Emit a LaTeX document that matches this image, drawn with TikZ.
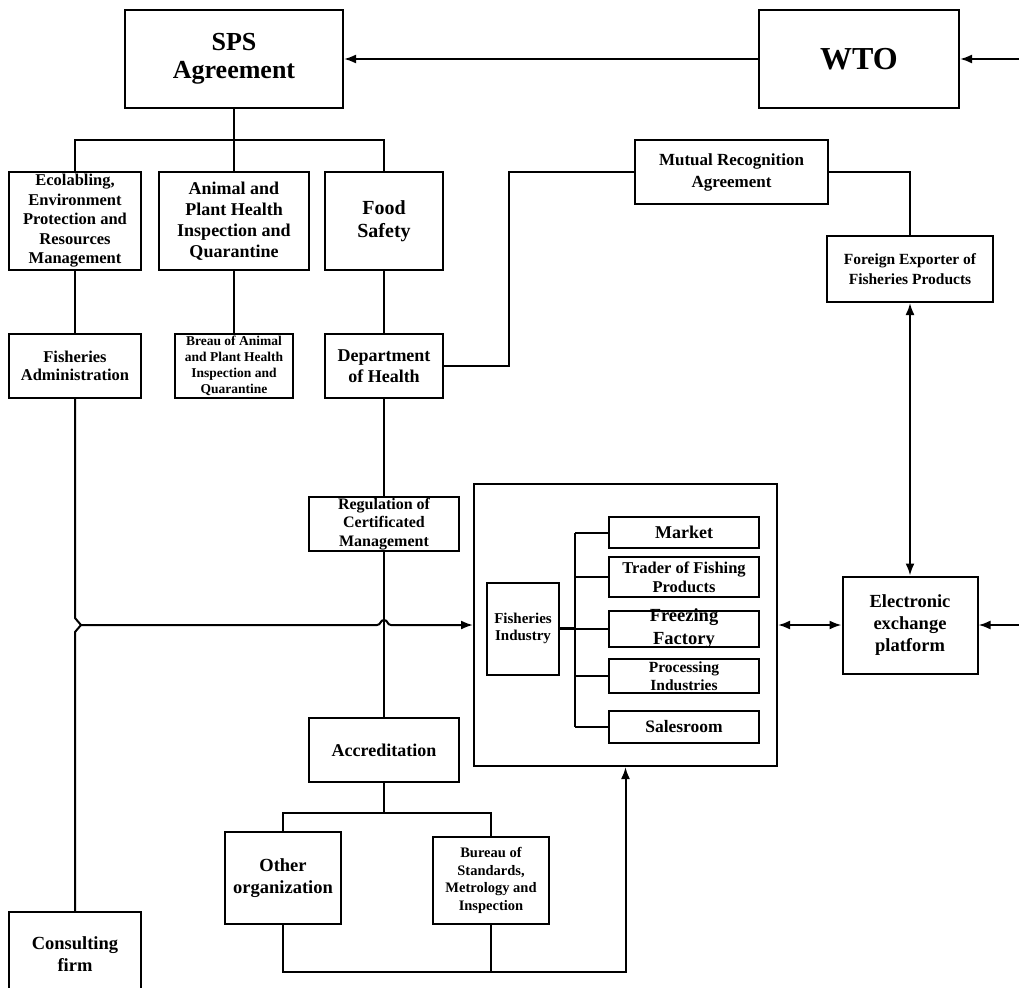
\documentclass[tikz,border=0pt]{standalone}
\usepackage{fontspec}
\setmainfont{Liberation Serif}
\usetikzlibrary{arrows.meta}

\begin{document}
\begin{tikzpicture}
[x=1pt,y=-1pt,
  every node/.style={inner sep=0pt,align=center,line width=2pt},%
  boxNode/.style 2 args={draw,minimum width=#1,minimum height=#2},
  textSize/.style 2 args={font=\fontsize{#1}{#2}\selectfont\bfseries},
  lineDecorate/.style={-,line width=2pt},
  arrowDecorate/.style={-{Latex[length=12pt,width=9pt]},line width=2pt},
  bothDecorate/.style={{Latex[length=12pt,width=9pt]}-{Latex[length=12pt,width=9pt]},line width=2pt}]
\clip (0,0) rectangle (1019,987);
% agreements
\node[boxNode={218pt}{98pt},textSize={26}{28}] (sps) at (234,59) {SPS\\Agreement};
\node[boxNode={200pt}{98pt},textSize={32}{36}] (wto) at (859,59) {WTO};
\node[boxNode={193pt}{64pt},textSize={17}{22}] (mra) at (731.5,172) {Mutual Recognition\\Agreement};
\node[boxNode={166pt}{66pt},textSize={15.5}{20}] (foreign) at (910,269) {Foreign Exporter of\\Fisheries Products};
% SPS fields
\node[boxNode={132pt}{98pt},textSize={16.5}{19.5}] (eco) at (75,221)
  {Ecolabling,\\Environment\\Protection and\\Resources\\Management};
\node[boxNode={150pt}{98pt},textSize={18}{21}] (animal) at (234,221)
  {Animal and\\Plant Health\\Inspection and\\Quarantine};
\node[boxNode={118pt}{98pt},textSize={20}{23}] (food) at (384,221) {Food\\Safety};
% authorities
\node[boxNode={132pt}{64pt},textSize={16.5}{18}] (fishAdmin) at (75,366) {Fisheries\\Administration};
\node[boxNode={118pt}{64pt},textSize={13.5}{16}] (breau) at (234,366)
  {Breau of Animal\\and Plant Health\\Inspection and\\Quarantine};
\node[boxNode={118pt}{64pt},textSize={18}{21}] (dept) at (384,366) {Department\\of Health};
\node[boxNode={150pt}{54pt},textSize={16}{18.5}] (regulation) at (384,524)
  {Regulation of\\Certificated\\Management};
\node[boxNode={150pt}{64pt},textSize={18}{21}] (accreditation) at (384,750) {Accreditation};
\node[boxNode={116pt}{92pt},textSize={18.5}{22.5}] (other) at (283,878) {Other\\organization};
\node[boxNode={116pt}{87pt},textSize={14.5}{17.5}] (bureau) at (491,880.5)
  {Bureau of\\Standards,\\Metrology and\\Inspection};
\node[boxNode={132pt}{84pt},textSize={18.5}{21.5}] (consulting) at (75,954) {Consulting\\firm};
% fisheries industry
\node[boxNode={303pt}{282pt}] (industryBox) at (625.5,625) {};
\node[boxNode={72pt}{92pt},textSize={15}{16.5}] (fishIndustry) at (523,628.5) {Fisheries\\Industry};
\node[boxNode={150pt}{31pt},textSize={18}{21}] (market) at (684,532.5) {Market};
\node[boxNode={150pt}{40pt},textSize={16.5}{19}] (trader) at (684,577) {Trader of Fishing\\Products};
\node[boxNode={150pt}{36pt},label={[textSize={18.5}{23}]center:{Freezing\\Factory}}] (freezing) at (684,628.5) {};
\node[boxNode={150pt}{34pt},textSize={15.5}{18}] (processing) at (684,676) {Processing\\Industries};
\node[boxNode={150pt}{32pt},textSize={17.5}{20}] (salesroom) at (684,727) {Salesroom};
\node[boxNode={135pt}{97pt},textSize={18.5}{22}] (eep) at (910,625) {Electronic\\exchange\\platform};

\coordinate (wtoIn) at (1019,59);
\coordinate (eepIn) at (1019,625);
\coordinate (spsFork) at (234,140);
\coordinate (accFork) at (384,813);
\coordinate (deptTurn) at (509,366);
\coordinate (baseLine) at (0,972);
\coordinate (trunk) at (575,0);
\coordinate (kinkTip) at (81,625);
\coordinate (kinkBase) at (fishAdmin.south |- kinkTip);
\coordinate (hopMid) at (regulation.south |- kinkTip);

\draw[arrowDecorate] (wtoIn) -- (wto);
\draw[arrowDecorate] (wto) -- (sps);
\draw[lineDecorate] (sps) -- (spsFork);
\foreach \n in {eco,animal,food} \draw[lineDecorate] (spsFork) -| (\n.north);
\path
\foreach \startNode/\endNode in {
  eco/fishAdmin, animal/breau, food/dept, dept/regulation,
  regulation/accreditation, accreditation/accFork}
{
  (\startNode) edge[lineDecorate] (\endNode)
};
\foreach \n in {other,bureau} \draw[lineDecorate] (accFork) -| (\n.north);
\draw[lineDecorate] (dept) -- (deptTurn) |- (mra);
\draw[lineDecorate] (mra) -| (foreign);
\draw[bothDecorate] (foreign) -- (eep);
\draw[bothDecorate] (industryBox) -- (eep);
\draw[arrowDecorate] (eepIn) -- (eep);
% line with kink and hop
\draw[lineDecorate] (fishAdmin) -- ([yshift=7pt]kinkBase)
  -- (kinkTip) -- ([yshift=-7pt]kinkBase)
  -- (consulting);
\draw[arrowDecorate] (kinkTip) -- ([xshift=-7pt]hopMid)
  .. controls ([xshift=-3pt]hopMid) and ([xshift=-4pt,yshift=5pt]hopMid) .. ([yshift=5pt]hopMid)
  .. controls ([xshift=4pt,yshift=5pt]hopMid) and ([xshift=3pt]hopMid) .. ([xshift=7pt]hopMid)
  -- (industryBox.west);
\draw[arrowDecorate] (other) |- (industryBox.south |- baseLine) -- (industryBox);
\draw[lineDecorate] (bureau) -- (bureau |- baseLine);
% branches inside the industry box
\draw[lineDecorate] (trunk |- market) -- (trunk |- salesroom);
\foreach \n in {market,trader,processing,salesroom} \draw[lineDecorate] (trunk |- \n) -- (\n);
\draw[lineDecorate] (fishIndustry) -- ([xshift=2pt]freezing.west);
\draw[lineDecorate,line width=3pt] (fishIndustry) -- (trunk |- fishIndustry);
\end{tikzpicture}
\end{document}
